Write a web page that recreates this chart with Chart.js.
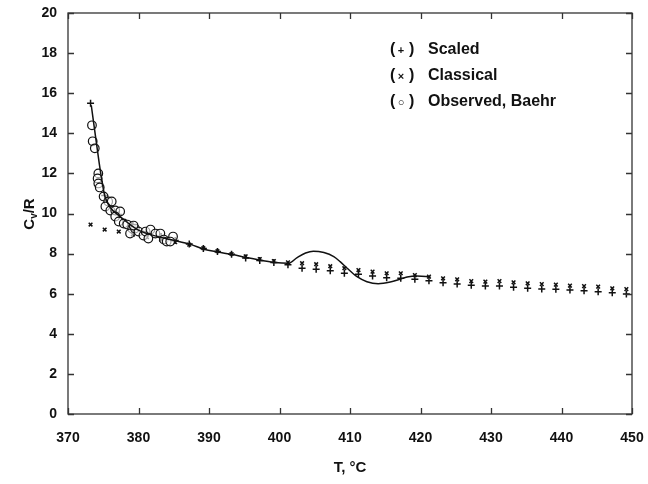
<!DOCTYPE html>
<html>
<head>
<meta charset="utf-8">
<script src="https://cdn.jsdelivr.net/npm/chart.js@4"></script>
<style>
  html, body { margin: 0; padding: 0; background: #fff; }
  #c { display: block; }
</style>
</head>
<body>
<canvas id="c" width="648" height="484"></canvas>
<script>
// temperatures of the calculated points (deg C)
const temps = [373.2, 375.2, 377.2, 379.2, 381.2, 383.2, 385.2, 387.2, 389.2, 391.2,
  393.2, 395.2, 397.2, 399.2, 401.2, 403.2, 405.2, 407.2, 409.2, 411.2,
  413.2, 415.2, 417.2, 419.2, 421.2, 423.2, 425.2, 427.2, 429.2, 431.2,
  433.2, 435.2, 437.2, 439.2, 441.2, 443.2, 445.2, 447.2, 449.2];
const scaledCv = [15.5, 10.9, 9.95, 9.4, 9.05, 8.85, 8.65, 8.48, 8.25, 8.1,
  7.97, 7.78, 7.65, 7.55, 7.45, 7.27, 7.22, 7.15, 7.02, 6.97,
  6.88, 6.8, 6.77, 6.72, 6.65, 6.55, 6.48, 6.42, 6.38, 6.38,
  6.32, 6.27, 6.23, 6.22, 6.18, 6.15, 6.1, 6.05, 5.99];
const classicalCv = [9.45, 9.2, 9.1, 8.95, 8.82, 8.7, 8.57, 8.45, 8.27, 8.12,
  7.98, 7.86, 7.73, 7.63, 7.56, 7.52, 7.47, 7.37, 7.27, 7.18,
  7.1, 7.02, 7.02, 6.93, 6.85, 6.77, 6.72, 6.63, 6.6, 6.63,
  6.57, 6.52, 6.48, 6.45, 6.4, 6.38, 6.35, 6.27, 6.23];

// observed (Baehr)
const obsT = [373.4, 373.5, 373.8, 374.3, 374.2, 374.3, 374.5, 375.05, 375.7, 376.2,
  375.3, 376.0, 376.7, 377.4, 376.7, 377.2, 377.9, 378.4, 379.1, 378.8,
  379.5, 380.0, 379.3, 380.7, 381.0, 381.7, 381.4, 382.4, 383.1, 383.6,
  384.0, 384.9, 384.5];
const obsCv = [14.4, 13.6, 13.25, 12.0, 11.75, 11.5, 11.3, 10.85, 10.6, 10.6,
  10.35, 10.15, 10.15, 10.1, 9.85, 9.6, 9.5, 9.45, 9.25, 9.0,
  9.25, 9.1, 9.4, 8.9, 9.1, 9.2, 8.75, 9.0, 9.0, 8.7,
  8.6, 8.85, 8.6];

// solid curve
const curveT = [373.3, 374.0, 374.6, 375.2, 376.0, 377.4, 378.8, 380.3, 382.0, 384.5,
  387.4, 389.3, 391.3, 393.3, 395.3, 397.3, 399.3, 401.3, 402.5, 403.7,
  404.8, 406.3, 407.7, 408.6, 409.6, 411.0, 412.4, 414.0, 415.7, 417.1,
  418.1, 419.5, 421.4];
const curveCv = [15.4, 13.6, 12.1, 10.9, 10.3, 9.85, 9.45, 9.12, 8.92, 8.7,
  8.46, 8.22, 8.08, 7.95, 7.8, 7.67, 7.56, 7.52, 7.8, 8.03,
  8.12, 8.05, 7.85, 7.6, 7.27, 6.85, 6.6, 6.5, 6.58, 6.72,
  6.83, 6.88, 6.85];

const xTicks = [370, 380, 390, 400, 410, 420, 430, 440, 450];
const yTicks = [0, 2, 4, 6, 8, 10, 12, 14, 16, 18, 20];

const legendItems = [['+', 'Scaled'], ['\u00d7', 'Classical'], ['\u25cb', 'Observed, Baehr']];

const ink = '#111';
const FONT = '"Liberation Sans", Arial, sans-serif';

function pts(xs, ys){ return xs.map((x,i)=>({x, y: ys[i]})); }

const framePlugin = {
  id: 'framePlugin',
  afterDraw(chart){
    const {ctx, chartArea: a, scales: {x, y}} = chart;
    ctx.save();
    ctx.strokeStyle = '#333';
    ctx.lineWidth = 1.3;
    ctx.strokeRect(a.left, a.top, a.right - a.left, a.bottom - a.top);
    ctx.beginPath();
    xTicks.forEach(v=>{
      const px = Math.round(x.getPixelForValue(v)) + 0.5;
      ctx.moveTo(px, a.bottom); ctx.lineTo(px, a.bottom - 6);
      ctx.moveTo(px, a.top); ctx.lineTo(px, a.top + 6);
    });
    yTicks.forEach(v=>{
      const py = Math.round(y.getPixelForValue(v)) + 0.5;
      ctx.moveTo(a.left, py); ctx.lineTo(a.left + 6, py);
      ctx.moveTo(a.right, py); ctx.lineTo(a.right - 6, py);
    });
    ctx.stroke();

    // legend text
    ctx.fillStyle = ink;
    ctx.textBaseline = 'middle';
    legendItems.forEach(([sym, label], i)=>{
      const ly = 50 + i * 26;
      ctx.font = 'bold 16px ' + FONT;
      ctx.textAlign = 'left';
      ctx.fillText('(', 390, ly);
      ctx.fillText(')', 409, ly);
      ctx.fillText(label, 428, ly);
      ctx.font = 'bold 11px ' + FONT;
      ctx.textAlign = 'center';
      ctx.fillText(sym, 401, ly + 1);
    });

    // y axis title C_v/R
    ctx.save();
    ctx.translate(29, 214);
    ctx.rotate(-Math.PI / 2);
    ctx.textAlign = 'left';
    ctx.textBaseline = 'alphabetic';
    ctx.font = 'bold 15px ' + FONT;
    const w1 = ctx.measureText('C').width;
    ctx.font = 'bold 10px ' + FONT;
    const w2 = ctx.measureText('v').width;
    ctx.font = 'bold 15px ' + FONT;
    const w3 = ctx.measureText('/R').width;
    let sx = -(w1 + w2 + w3) / 2;
    ctx.fillText('C', sx, 5);
    ctx.font = 'bold 10px ' + FONT;
    ctx.fillText('v', sx + w1, 8);
    ctx.font = 'bold 15px ' + FONT;
    ctx.fillText('/R', sx + w1 + w2, 5);
    ctx.restore();
    ctx.restore();
  }
};

new Chart(document.getElementById('c'), {
  type: 'scatter',
  data: {
    datasets: [
      {
        label: 'curve', type: 'line', data: pts(curveT, curveCv),
        borderColor: ink, borderWidth: 1.5, pointRadius: 0,
        cubicInterpolationMode: 'monotone', fill: false
      },
      {
        label: 'Observed, Baehr', data: pts(obsT, obsCv),
        pointStyle: 'circle', pointRadius: 4.3, borderColor: ink, borderWidth: 1.2,
        backgroundColor: 'rgba(255,255,255,0.6)'
      },
      {
        label: 'Classical', data: pts(temps, classicalCv),
        pointStyle: 'crossRot', pointRadius: 2.6, borderColor: ink, borderWidth: 1.5
      },
      {
        label: 'Scaled', data: pts(temps, scaledCv),
        pointStyle: 'cross', pointRadius: 3.5, borderColor: ink, borderWidth: 1.5
      }
    ]
  },
  options: {
    responsive: false,
    animation: false,
    layout: { padding: { top: 13, right: 16, left: 0, bottom: 0 } },
    plugins: { legend: { display: false }, tooltip: { enabled: false } },
    scales: {
      x: {
        type: 'linear', min: 370, max: 450,
        afterFit(s){ s.height = 70; },
        afterBuildTicks(s){ s.ticks = xTicks.map(v=>({value: v})); },
        // invisible tick marks just to space the labels from the axis
        grid: { display: true, drawOnChartArea: false, drawTicks: true, tickLength: 16, color: 'rgba(0,0,0,0)' },
        border: { display: false },
        ticks: { padding: 0, color: ink, font: { family: FONT, size: 14, weight: 'bold' } },
        title: { display: true, text: 'T, \u00b0C', color: ink, padding: { top: 4, bottom: 7 },
          font: { family: FONT, size: 15, weight: 'bold' } }
      },
      y: {
        min: 0, max: 20,
        afterFit(s){ s.width = 68; },
        afterBuildTicks(s){ s.ticks = yTicks.map(v=>({value: v})); },
        grid: { display: true, drawOnChartArea: false, drawTicks: true, tickLength: 11, color: 'rgba(0,0,0,0)' },
        border: { display: false },
        ticks: { padding: 0, color: ink, font: { family: FONT, size: 14, weight: 'bold' } }
      }
    }
  },
  plugins: [framePlugin]
});
</script>
</body>
</html>
